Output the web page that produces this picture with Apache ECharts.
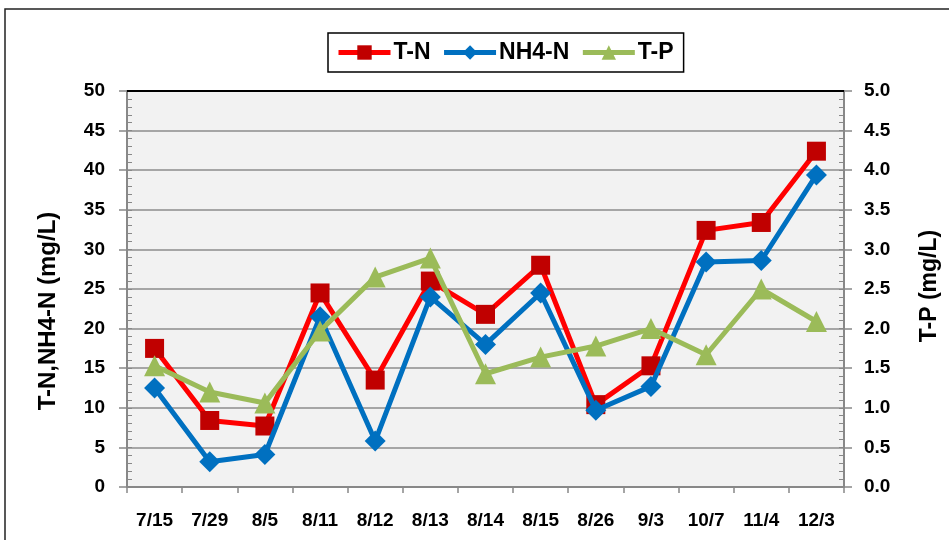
<!DOCTYPE html>
<html>
<head>
<meta charset="utf-8">
<script src="https://cdn.jsdelivr.net/npm/echarts@6/dist/echarts.min.js"></script>
<style>
  html, body { margin: 0; padding: 0; background: #fff; }
  #chart { width: 949px; height: 540px; }
</style>
</head>
<body>
<div id="chart"></div>
<script>
// sampling dates
const dates = ['7/15', '7/29', '8/5', '8/11', '8/12', '8/13', '8/14', '8/15', '8/26', '9/3', '10/7', '11/4', '12/3'];
// mg/L, left axis
const tn = [17.5, 8.4, 7.7, 24.5, 13.5, 26.0, 21.8, 28.0, 10.4, 15.3, 32.4, 33.4, 42.4];
const nh4n = [12.5, 3.2, 4.1, 21.5, 5.8, 24.0, 18.0, 24.5, 9.7, 12.7, 28.4, 28.6, 39.4];
// mg/L, right axis
const tp = [1.53, 1.2, 1.06, 1.97, 2.65, 2.89, 1.43, 1.64, 1.78, 2.0, 1.67, 2.5, 2.09];

const font = "'Liberation Sans', 'Open Sans', sans-serif";
const axisGray = '#888888';

const chart = echarts.init(document.getElementById('chart'));

const option = {
    animation: false,
    backgroundColor: '#ffffff',
    textStyle: { fontFamily: font },
    graphic: [{
        type: 'rect',
        shape: { x: 5, y: 9, width: 1000, height: 600 },
        style: { fill: 'none', stroke: '#222', lineWidth: 1.5 },
        silent: true
    }],
    legend: {
        top: 33,
        left: 328,
        padding: [8, 10, 8, 8],
        borderColor: '#000',
        borderWidth: 1.5,
        itemGap: 11,
        itemWidth: 52,
        itemHeight: 18,
        lineStyle: { width: 5 },
        textStyle: { fontSize: 23, fontWeight: 'bold', color: '#000', fontFamily: font, padding: [0, 0, 0, -2] },
        data: ['T-N', 'NH4-N', 'T-P']
    },
    grid: {
        left: 127,
        right: 102,
        top: 91,
        bottom: 53,
        show: true,
        backgroundColor: '#F2F2F2',
        borderWidth: 0
    },
    xAxis: {
        type: 'category',
        data: dates,
        boundaryGap: true,
        axisLine: { lineStyle: { color: axisGray, width: 2 } },
        axisTick: { show: true, length: 6, lineStyle: { color: axisGray, width: 1.5 } },
        axisLabel: { fontSize: 19, fontWeight: 'bold', color: '#000', margin: 24, interval: 0 }
    },
    yAxis: [{
        type: 'value',
        min: 0,
        max: 50,
        interval: 5,
        position: 'left',
        name: 'T-N,NH4-N (mg/L)',
        nameLocation: 'middle',
        nameRotate: 90,
        nameGap: 67,
        nameTextStyle: { fontSize: 24, fontWeight: 'bold', color: '#000', padding: [0, 44, 0, 0] },
        axisLine: { show: true, lineStyle: { color: axisGray, width: 2 } },
        axisTick: { show: true, length: 8, lineStyle: { color: axisGray, width: 1.5 } },
        axisLabel: { fontSize: 19, fontWeight: 'bold', color: '#000', margin: 22 },
        splitLine: { show: true, lineStyle: { color: '#8c8c8c', width: 1.5 } }
    }, {
        type: 'value',
        min: 0,
        max: 5,
        interval: 0.5,
        position: 'right',
        name: 'T-P (mg/L)',
        nameLocation: 'middle',
        nameRotate: 90,
        nameGap: 74,
        nameTextStyle: { fontSize: 23, fontWeight: 'bold', color: '#000', padding: [0, 0, 0, 6] },
        axisLine: { show: true, lineStyle: { color: axisGray, width: 2 } },
        axisTick: { show: true, length: 8, lineStyle: { color: axisGray, width: 1.5 } },
        axisLabel: {
            fontSize: 19, fontWeight: 'bold', color: '#000', margin: 20,
            formatter: v => v.toFixed(1)
        },
        splitLine: { show: false }
    }, {
        // inner minor ticks, left
        type: 'value', min: 0, max: 50, interval: 5, position: 'left',
        axisLine: { show: false },
        axisLabel: { show: false },
        splitLine: { show: false },
        axisTick: { show: true, inside: true, length: 5, lineStyle: { color: axisGray } },
        minorTick: { show: true, splitNumber: 5, length: 5, lineStyle: { color: axisGray } }
    }, {
        // inner minor ticks, right
        type: 'value', min: 0, max: 5, interval: 0.5, position: 'right',
        axisLine: { show: false },
        axisLabel: { show: false },
        splitLine: { show: false },
        axisTick: { show: true, inside: true, length: 5, lineStyle: { color: axisGray } },
        minorTick: { show: true, splitNumber: 5, length: 5, lineStyle: { color: axisGray } }
    }],
    series: [{
        name: 'T-N',
        type: 'line',
        data: tn,
        yAxisIndex: 0,
        symbol: 'rect',
        symbolSize: 19,
        itemStyle: { color: '#C00000' },
        lineStyle: { color: '#FF0000', width: 5 },
        markLine: {
            silent: true,
            symbol: 'none',
            label: { show: false },
            lineStyle: { color: '#000', width: 2, type: 'solid' },
            data: [{ yAxis: 50 }]
        },
        z: 3
    }, {
        name: 'NH4-N',
        type: 'line',
        data: nh4n,
        yAxisIndex: 0,
        symbol: 'diamond',
        symbolSize: 21,
        itemStyle: { color: '#0070C0' },
        lineStyle: { color: '#0070C0', width: 5 },
        z: 4
    }, {
        name: 'T-P',
        type: 'line',
        data: tp,
        yAxisIndex: 1,
        symbol: 'triangle',
        symbolSize: 21,
        itemStyle: { color: '#9BBB59' },
        lineStyle: { color: '#9BBB59', width: 5 },
        z: 5
    }]
};

chart.setOption(option);

window.addEventListener('resize', function() {
    chart.resize();
});
</script>
</body>
</html>
